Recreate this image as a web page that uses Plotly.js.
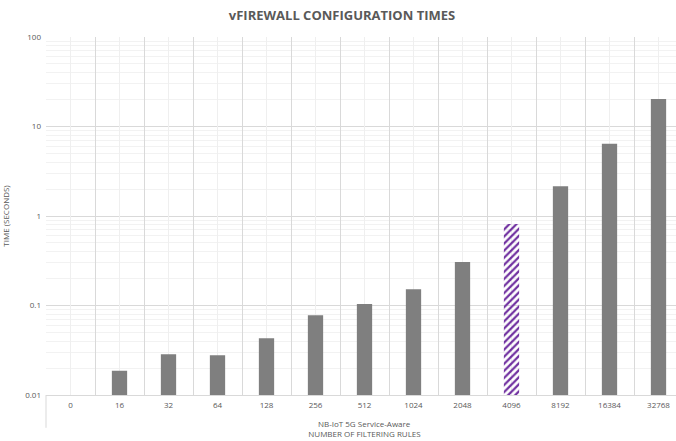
<!DOCTYPE html>
<html>
<head>
<meta charset="utf-8">
<script src="https://cdn.plot.ly/plotly-3.0.1.min.js"></script>
<style>
  html, body { margin: 0; padding: 0; overflow: hidden; background: #fff; }
  #chart { width: 690px; height: 441px; }
</style>
</head>
<body>
<div id="chart"></div>
<script>
// ---- data ----
const groupLabel = 'NB-IoT 5G Service-Aware';
const rules = ['0', '16', '32', '64', '128', '256', '512', '1024', '2048', '4096', '8192', '16384', '32768'];
const timesSec = [null, 0.0187, 0.0285, 0.0278, 0.043, 0.078, 0.104, 0.152, 0.306, 0.814, 2.15, 6.4, 20.3];
const hatchedRule = '4096';
const yTickVals = [0.01, 0.1, 1, 10, 100];
const yTickText = ['0.01', '0.1', '1', '10', '100'];
const centerGridPositions = rules.map((_, i) => i);

const gray = '#7f7f7f';
const purple = '#7030a0';
const textColor = '#595959';

const barColors = rules.map(r => r === hatchedRule ? purple : gray);
const barShapes = rules.map(r => r === hatchedRule ? '/' : '');

const bars = {
  type: 'bar',
  x: rules,
  y: timesSec,
  marker: {
    color: barColors,
    line: { width: 0 },
    pattern: { shape: barShapes, bgcolor: 'white', size: 5, solidity: 0.45, fillmode: 'replace' }
  },
  hoverinfo: 'x+y',
  showlegend: false
};

// helper trace carrying the light gridlines at category centres
const centreGrid = {
  type: 'scatter', mode: 'markers',
  x: centerGridPositions, y: centerGridPositions.map(() => null),
  xaxis: 'x2', yaxis: 'y', showlegend: false, hoverinfo: 'skip'
};

const plotH = 441 - 37 - 46;

const layout = {
  width: 690, height: 441,
  margin: { l: 46, r: 7, t: 37, b: 46 },
  paper_bgcolor: '#ffffff', plot_bgcolor: '#ffffff',
  font: { family: 'Open Sans, sans-serif', size: 8, color: textColor },
  title: {
    text: '<b>vFIREWALL CONFIGURATION TIMES</b>',
    font: { family: 'Open Sans, sans-serif', size: 13, color: textColor },
    x: 342 / 690, xref: 'container', xanchor: 'center',
    y: 1 - 15 / 441, yref: 'container', yanchor: 'middle'
  },
  bargap: 0.688,
  xaxis: {
    type: 'category', tickson: 'boundaries',
    showgrid: true, gridcolor: '#d9d9d9', gridwidth: 1,
    showline: true, linecolor: '#d9d9d9', linewidth: 1,
    ticks: '', ticklabelstandoff: 2,
    tickfont: { size: 8, color: textColor },
    title: { text: 'NUMBER OF FILTERING RULES', font: { size: 8, color: textColor }, standoff: 22 },
    zeroline: false
  },
  xaxis2: {
    type: 'linear', overlaying: 'x', range: [-0.5, 12.5],
    showgrid: true, gridcolor: '#efefef', gridwidth: 1,
    tick0: 0, dtick: 1, showticklabels: false, ticks: '', zeroline: false, showline: false
  },
  yaxis: {
    type: 'log', range: [-2, 2],
    tickmode: 'array', tickvals: yTickVals, ticktext: yTickText,
    showgrid: true, gridcolor: '#d9d9d9', gridwidth: 1,
    minor: { dtick: 'D1', showgrid: true, gridcolor: '#f2f2f2', gridwidth: 1, ticks: '' },
    ticks: '', showline: false, zeroline: false,
    tickfont: { size: 8, color: textColor },
    ticklabelstandoff: 4,
    title: { text: 'TIME (SECONDS)', font: { size: 8, color: textColor }, standoff: 14 }
  },
  annotations: [{
    text: groupLabel, xref: 'paper', yref: 'paper',
    x: 0.5, y: -(423 - 394.7) / plotH, xanchor: 'center', yanchor: 'middle',
    showarrow: false, font: { size: 8, color: textColor }
  }],
  shapes: [{
    type: 'line', xref: 'paper', yref: 'paper',
    x0: 0, x1: 0, y0: 0, y1: -(427.5 - 394.7) / plotH,
    line: { color: '#d9d9d9', width: 1 }
  }]
};

Plotly.newPlot('chart', [centreGrid, bars], layout, { displayModeBar: false, staticPlot: true });
</script>
</body>
</html>
